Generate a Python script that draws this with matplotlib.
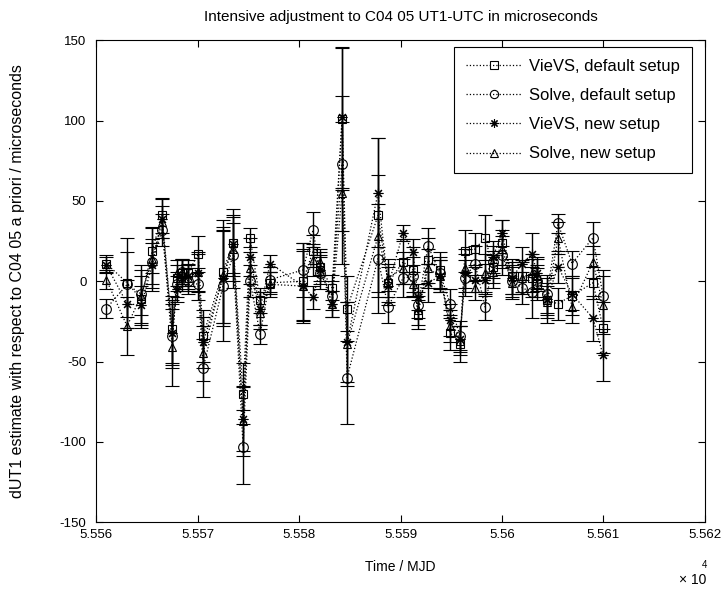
import numpy as np
import matplotlib
matplotlib.use('Agg')
import matplotlib.pyplot as plt
from matplotlib.ticker import FuncFormatter

plt.rcParams['font.family'] = ['Liberation Sans', 'DejaVu Sans']
plt.rcParams['axes.unicode_minus'] = False

# session epochs (MJD)
mjd = [55561.0, 55563.05, 55564.43, 55565.52, 55566.5, 55567.49, 55567.98, 55568.47,
       55569.06, 55570.05, 55570.54, 55572.51, 55573.5, 55574.48, 55575.17, 55576.16,
       55577.14, 55580.39, 55581.38, 55582.07, 55583.25, 55584.24, 55584.73, 55587.78,
       55588.77, 55590.25, 55591.23, 55591.72, 55592.71, 55593.89, 55594.88, 55595.86,
       55596.35, 55597.34, 55598.33, 55599.11, 55600.0, 55600.99, 55601.97, 55602.96,
       55603.45, 55604.43, 55605.52, 55606.9, 55608.97, 55609.95]

# dUT1 estimates (microseconds)
vievs_default = [11, -1, -11, 19, 41, -30, 2, 5, 5, 17, -34, 6, 24, -70, 27, -12,
                 -1, 0, 19, 9, -4, 101, -17, 41, -1, 12, 7, -21, 13, 7, -32, -39,
                 19, 20, 27, 9, 24, 3, 3, 2, -2, -12, -14, -9, -1, -29]
solve_default = [-17, -2, -8, 12, 32, -34, -2, 6, 0, -2, -54, -3, 16, -103, 0, -33,
                 1, 7, 32, 5, -9, 73, -60, 14, -16, 2, 3, -15, 22, 5, -14, -34,
                 2, 11, -16, 12, 16, 0, -4, -7, 0, -8, 36, 11, 27, -9]
vievs_new = [10, -14, -15, 10, 39, -32, -5, 2, 3, 5, -38, 2, 23, -86, 15, -17,
             11, -3, -10, 7, -14, 102, -38, 55, -3, 30, 18, -10, -1, 3, -24, -36,
             5, 1, 1, 15, 30, 2, 11, 17, 5, -11, 9, -8, -23, -46]
solve_new = [1, -28, -9, 14, 37, -41, 5, 6, 2, 6, -45, 4, 20, -87, 8, -20,
             -2, -3, 13, 12, -14, 55, -39, 28, 2, 8, -2, -18, 8, 3, -28, -37,
             8, -4, 5, 6, 20, -1, 2, 5, 4, -13, 27, -16, 12, -15]

# formal errors (microseconds)
err_vievs_default = [5, 28, 18, 14, 11, 21, 8, 8, 8, 11, 16, 32, 21, 19, 6, 8,
                     7, 24, 10, 9, 8, 44, 20, 48, 12, 14, 14, 9, 14, 11, 11, 11,
                     13, 10, 14, 10, 14, 11, 10, 12, 10, 14, 10, 12, 10, 16]
err_solve_default = [6, 20, 18, 14, 10, 20, 8, 8, 8, 10, 18, 34, 20, 23, 10, 6,
                     8, 17, 11, 10, 9, 42, 29, 34, 10, 12, 12, 8, 11, 10, 9, 9,
                     11, 11, 8, 10, 12, 10, 10, 16, 10, 12, 6, 8, 10, 16]
err_vievs_new = [5, 15, 12, 14, 12, 20, 8, 8, 8, 12, 16, 30, 18, 20, 12, 10,
                 5, 23, 7, 9, 8, 44, 25, 34, 12, 5, 8, 8, 12, 10, 10, 8,
                 12, 8, 10, 10, 8, 10, 10, 13, 10, 10, 10, 10, 14, 16]
err_solve_new = [6, 18, 12, 20, 10, 24, 8, 8, 8, 12, 17, 30, 20, 22, 10, 10,
                 8, 22, 10, 8, 8, 44, 26, 38, 12, 10, 8, 9, 12, 10, 10, 9,
                 12, 8, 12, 10, 12, 10, 10, 12, 10, 10, 10, 10, 10, 18]

series = [
    ('VieVS, default setup', vievs_default, err_vievs_default, 's', 6),
    ('Solve, default setup', solve_default, err_solve_default, 'o', 7),
    ('VieVS, new setup', vievs_new, err_vievs_new, (8, 2, 0), 7),
    ('Solve, new setup', solve_new, err_solve_new, '^', 6),
]

fig = plt.figure(figsize=(7.23, 5.92), dpi=100)
ax = fig.add_axes([0.133, 0.118, 0.842, 0.814])

for label, vals, errs, mk, ms in series:
    ax.errorbar(mjd, vals, yerr=errs, fmt=':', color='k', marker=mk, ms=ms,
                mfc='none', mec='k', mew=0.8, lw=0.9, elinewidth=1.0,
                capsize=5, capthick=1.0, label=label)

ax.set_xlim(55560, 55620)
ax.set_ylim(-150, 150)
ax.set_xticks(np.arange(55560, 55621, 10))
ax.set_yticks(np.arange(-150, 151, 50))
ax.xaxis.set_major_formatter(FuncFormatter(lambda v, p: '%g' % round(v / 1e4, 4)))
ax.tick_params(direction='in', top=True, right=True, length=5, labelsize=9.5, width=0.8)
ax.tick_params(axis='y', pad=7)
ax.tick_params(axis='x', pad=5)
for s in ax.spines.values():
    s.set_linewidth(0.8)

ax.set_title('Intensive adjustment to C04 05 UT1-UTC in microseconds', fontsize=11, pad=14)
ax.set_xlabel('Time / MJD', fontsize=10)
ax.xaxis.set_label_coords(0.5, -0.078)
ax.set_ylabel('dUT1 estimate with respect to C04 05 a priori / microseconds', fontsize=11.5)
ax.yaxis.set_label_coords(-0.117, 0.5)
fig.text(0.939, 0.008, u'\u00d7 10', fontsize=10, ha='left', va='bottom')
fig.text(0.971, 0.038, '4', fontsize=7, ha='left', va='bottom')

handles, labels = ax.get_legend_handles_labels()
handles = [h[0] for h in handles]
leg = ax.legend(handles, labels, loc='upper right', bbox_to_anchor=(0.9787, 0.9855),
                fontsize=12, fancybox=False, edgecolor='k', framealpha=1,
                borderaxespad=0, handlelength=3.3, handletextpad=0.5,
                labelspacing=0.85, borderpad=0.7, markerscale=0.85)
leg.get_frame().set_linewidth(0.8)

fig.savefig('out.png', dpi=100)
